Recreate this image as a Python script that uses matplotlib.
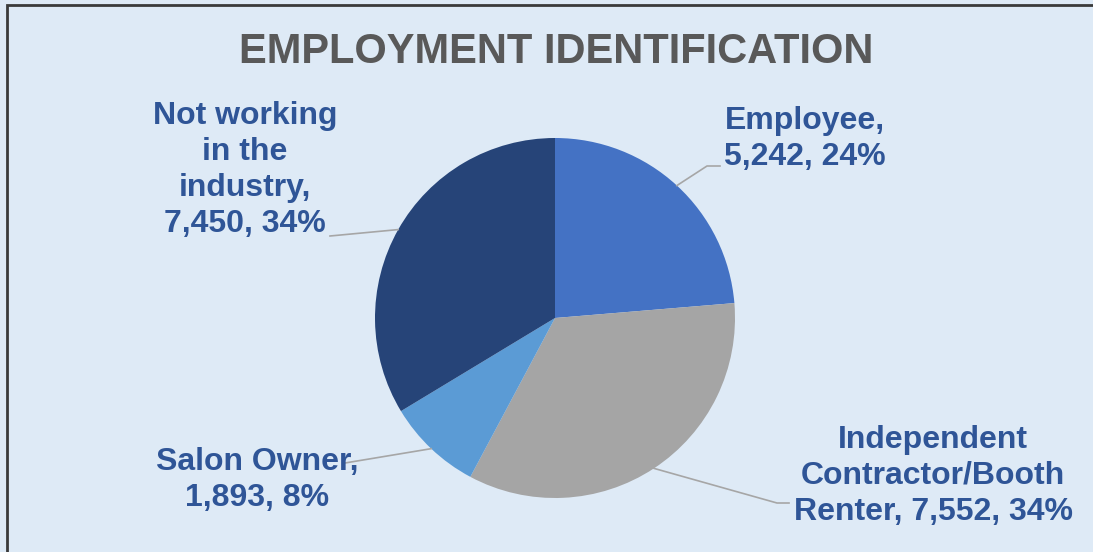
import matplotlib

matplotlib.use("Agg")
import matplotlib.pyplot as plt
import numpy as np
from matplotlib.patches import Rectangle

# data
categories = ["Employee", "Independent Contractor/Booth Renter", "Salon Owner", "Not working in the industry"]
counts = [5242, 7552, 1893, 7450]
percents = ["24%", "34%", "8%", "34%"]
label_texts = [
    "Employee,\n5,242, 24%",
    "Independent\nContractor/Booth\nRenter, 7,552, 34%",
    "Salon Owner,\n1,893, 8%",
    "Not working\nin the\nindustry,\n7,450, 34%",
]
colors = ["#4472C4", "#A5A5A5", "#5B9BD5", "#264478"]

W, H = 1093, 552
BG = "#DEEAF6"
TEXT = "#2F5597"

# layout, in image pixels (y from top)
center = (555, 318)
radius = 180
label_pos = [(805, 139), (933, 476), (257, 480), (245, 170)]
leader_end = [[(707, 166), (720, 166)], [(777, 503), (789, 503)], [(345, 463)], [(330, 236)]]

fig = plt.figure(figsize=(W / 100, H / 100), dpi=100, facecolor=BG)
ax = fig.add_axes([0, 0, 1, 1])
ax.set_xlim(0, W)
ax.set_ylim(0, H)
ax.set_facecolor(BG)
ax.axis("off")


def fy(y):
    return H - y


# chart frame (cut off on right and bottom)
ax.add_patch(Rectangle((7, fy(700)), 1300, 695, facecolor="none", edgecolor="#3A3A3A", linewidth=2.0, zorder=1))

wedges, _ = ax.pie(
    counts,
    colors=colors,
    startangle=90,
    counterclock=False,
    radius=radius,
    center=(center[0], fy(center[1])),
    wedgeprops=dict(linewidth=0),
)
ax.set_xlim(0, W)
ax.set_ylim(0, H)
ax.set_aspect("equal")

for w, text, pos, ends in zip(wedges, label_texts, label_pos, leader_end):
    mid = np.deg2rad((w.theta1 + w.theta2) / 2)
    sx = center[0] + radius * np.cos(mid)
    sy = fy(center[1]) + radius * np.sin(mid)
    xs = [sx] + [p[0] for p in ends]
    ys = [sy] + [fy(p[1]) for p in ends]
    ax.plot(xs, ys, color="#A6A6A6", linewidth=1.2, zorder=3)
    ax.text(pos[0], fy(pos[1]), text, ha="center", va="center", multialignment="center",
            fontsize=23, fontweight="bold", color=TEXT, family="Liberation Sans",
            linespacing=1.26, zorder=4)

ax.text(556, fy(52), "EMPLOYMENT IDENTIFICATION", ha="center", va="center",
        fontsize=30, fontweight="bold", color="#595959", family="Liberation Sans")

fig.savefig("out.png", dpi=100, facecolor=BG)
